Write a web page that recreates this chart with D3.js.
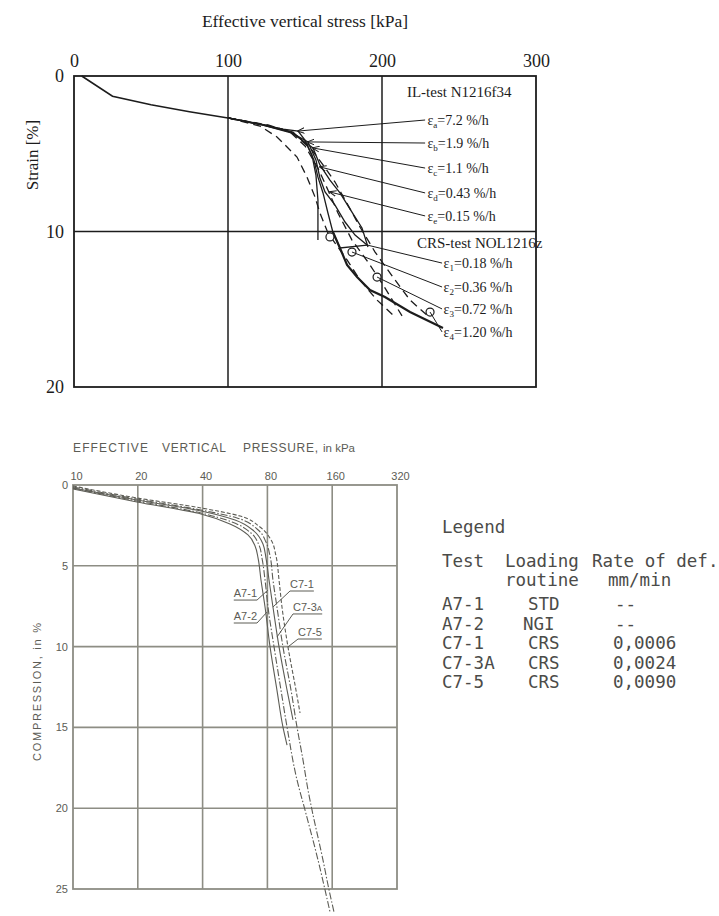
<!DOCTYPE html>
<html>
<head>
<meta charset="utf-8">
<script src="https://cdn.jsdelivr.net/npm/d3@7"></script>
<style>
body { margin: 0; background: #fff; }
</style>
</head>
<body>
<svg id="fig" width="719" height="916"></svg>
<script>
// ---------- top chart: effective vertical stress [kPa] vs strain [%]
var topTicksX = [0, 100, 200, 300], topTicksY = [0, 10, 20]
var topGridX = [100, 200], topGridY = [10]

var baseCurve = [[5, 0], [25, 1.3], [50, 1.85], [75, 2.3], [100, 2.7]]

// IL-test curves (solid)
var ilA = [[100, 2.7], [120.8, 3.09], [135.7, 3.41], [145.5, 3.54], [150, 4.12], [154.5, 5.08], [157.1, 6.37], [158.4, 7.97], [158.4, 10.55]]
var ilB = [[100, 2.7], [122.1, 3.15], [140.3, 3.6], [151.9, 4.24], [157.1, 5.4], [159.7, 6.56], [163, 7.46], [169.5, 8.3], [176, 9.39], [182.5, 10.23], [190.3, 10.87]]
var ilC = [[100, 2.7], [122.1, 3.15], [141.6, 3.67], [155.2, 4.63], [159.7, 5.72], [166.2, 6.69], [172.7, 7.52], [180.5, 8.75], [187, 9.77], [190.9, 11.0]]
var ilD = [[100, 2.7], [124, 3.15], [142.2, 3.6], [151.3, 4.44], [155.8, 5.4], [158.4, 6.5], [161.7, 7.52], [164.9, 8.81], [168, 10.0], [172.7, 11.06], [190.3, 10.87]]

// CRS-test curves
var crs1 = [[100, 2.7], [120.8, 3.22], [131.8, 3.92], [144.8, 5.21], [151.3, 6.5], [156.5, 7.78], [159.7, 8.81], [164.9, 10.1], [177.3, 11.83], [185.7, 13.12], [196.8, 14.41], [207.1, 15.37]]
var crs2 = [[100, 2.7], [124, 3.15], [139.6, 3.54], [150, 4.5], [158.4, 5.92], [164.9, 7.33], [171.4, 8.81], [180.5, 10.55], [192.2, 12.15], [201.9, 13.63], [213, 15.43]]
var crs3 = [[100, 2.7], [126, 3.15], [142.2, 3.67], [154.5, 4.76], [161.7, 5.72], [169.5, 6.82], [177.9, 8.3], [185.7, 9.71], [195.5, 11.32], [207.1, 12.93], [218.2, 14.41], [231.2, 15.56]]
var crs4 = [[168, 10.0], [172.7, 11.06], [177.3, 12.15], [183.8, 12.93], [192.2, 13.76], [201.9, 14.21], [218.2, 15.18], [239.6, 16.21]]

var ilNames = ["a", "b", "c", "d", "e"]
var ilRates = ["7.2", "1.9", "1.1", "0.43", "0.15"]
var ilLabelStrain = [2.83, 4.31, 5.92, 7.52, 9.0]
var ilTips = [[145.5, 3.54], [151.9, 4.24], [155.2, 4.63], [159.7, 5.85], [166.2, 7.46]]

var crsNames = ["1", "2", "3", "4"]
var crsRates = ["0.18", "0.36", "0.72", "1.20"]
var crsLabelStrain = [12.03, 13.57, 14.98, 16.46]
var crsTips = [[190.3, 10.87], [180.5, 11.32], [196.8, 12.93], [231.2, 15.18]]
var crsMarks = [[166.2, 10.35], [180.5, 11.32], [196.8, 12.93], [231.2, 15.18]]

// ---------- bottom chart: effective vertical pressure (log) vs compression
var botTicksX = [10, 20, 40, 80, 160, 320], botTicksY = [0, 5, 10, 15, 20, 25]
var botGridX = [20, 40, 80, 160], botGridY = [5, 10, 15, 20]

var a71 = [[10, 0.25], [19.8, 1.05], [39.3, 1.79], [53.6, 2.41], [65, 3.09], [70.1, 3.77], [72.4, 4.52], [74.7, 5.88], [78, 7.55], [82.3, 10.02], [88.6, 12.69], [94.5, 14.98], [98.7, 16.09]]
var a72 = [[10, 0.19], [19.8, 0.99], [39.3, 1.73], [54.8, 2.29], [67.1, 2.97], [73.1, 3.71], [75.5, 4.52], [78, 5.88], [80.5, 7.55], [85.9, 10.02], [92.5, 12.69], [98.7, 14.98], [109.8, 18.25], [119.6, 20.11], [137.5, 23.21], [148.2, 25.06], [156.3, 26.42]]
var c71 = [[10, 0.19], [19.8, 0.93], [39.3, 1.61], [56.6, 2.17], [69.3, 2.85], [76.3, 3.65], [78.8, 4.52], [81.4, 5.88], [84.9, 7.55], [90.6, 10.02], [98.7, 12.69], [105.2, 14.54]]
var c73a = [[10, 0.12], [19.8, 0.87], [39.3, 1.55], [57.8, 2.04], [71.6, 2.72], [78.8, 3.53], [82.3, 4.39], [84.9, 5.88], [88.6, 7.55], [94.5, 10.02], [103, 12.69], [109.8, 14.98], [117.1, 17.02], [123.5, 18.87], [128.9, 20.11], [145, 23.21], [154.7, 25.06], [163.1, 26.42]]
var c75 = [[10, 0.06], [19.8, 0.8], [39.3, 1.42], [59.7, 1.92], [73.9, 2.6], [83.2, 3.4], [87.7, 4.39], [90.6, 5.88], [93.5, 7.55], [99.7, 10.02], [108.6, 12.69], [113.4, 14.11]]

// label anchor (end of underline) and leader target on the curve
var botLabels = ["A7-1", "A7-2", "C7-1", "C7-3", "C7-5"]
var botLabelAt = [[71.6, 7.12], [71.6, 8.54], [101.9, 6.56], [105.2, 7.98], [111.0, 9.53]]
var botLabelTip = [[80.5, 6.5], [79.7, 7.86], [84.9, 7.55], [88.6, 9.41], [99.7, 10.02]]
var botLabelSide = ["left", "left", "right", "right", "right"]

var legendHead = ["Test", "Loading", "Rate of def."]
var legendHead2 = ["", "routine", "mm/min"]
var legendTests = ["A7-1", "A7-2", "C7-1", "C7-3A", "C7-5"]
var legendRoutine = ["STD", "NGI", "CRS", "CRS", "CRS"]
var legendRate = ["--", "--", "0,0006", "0,0024", "0,0090"]

var svg = d3.select("#fig")
var ink = "#1c1c1c"

// ================= TOP CHART =================
var xTop = d3.scaleLinear().domain([0, 300]).range([74, 536])
var yTop = d3.scaleLinear().domain([0, 20]).range([76, 387])
var lineTop = d3.line().x(d => xTop(d[0])).y(d => yTop(d[1]))

var topG = svg.append("g").attr("id", "top").style("font-family", "'Liberation Serif', serif").attr("fill", ink)

topG.append("text").attr("x", 305).attr("y", 27).attr("text-anchor", "middle")
  .style("font-size", "17.5px").text("Effective vertical stress [kPa]")

topG.append("text").attr("transform", "translate(38," + 155 + ")rotate(-90)").attr("text-anchor", "middle")
  .style("font-size", "17px").text("Strain [%]")

var ax = topG.append("g").attr("transform", "translate(0," + yTop(0) + ")")
  .call(d3.axisTop(xTop).tickValues(topTicksX).tickSize(0).tickPadding(9))
ax.select(".domain").remove()
ax.selectAll("text").style("font-size", "18px").style("font-family", "'Liberation Serif', serif").attr("fill", ink)

var ay = topG.append("g").attr("transform", "translate(" + xTop(0) + ",0)")
  .call(d3.axisLeft(yTop).tickValues(topTicksY).tickSize(0).tickPadding(10))
ay.select(".domain").remove()
ay.selectAll("text").style("font-size", "18px").style("font-family", "'Liberation Serif', serif").attr("fill", ink)

topG.selectAll(".gx").data(topGridX).enter().append("line")
  .attr("x1", d => xTop(d)).attr("x2", d => xTop(d)).attr("y1", yTop(0)).attr("y2", yTop(20))
  .attr("stroke", ink).attr("stroke-width", 1.5)
topG.selectAll(".gy").data(topGridY).enter().append("line")
  .attr("x1", xTop(0)).attr("x2", xTop(300)).attr("y1", d => yTop(d)).attr("y2", d => yTop(d))
  .attr("stroke", ink).attr("stroke-width", 1.5)
topG.append("rect").attr("x", xTop(0)).attr("y", yTop(0))
  .attr("width", xTop(300) - xTop(0)).attr("height", yTop(20) - yTop(0))
  .attr("fill", "none").attr("stroke", ink).attr("stroke-width", 1.8)

// curves
topG.append("path").attr("d", lineTop(baseCurve)).attr("fill", "none").attr("stroke", ink).attr("stroke-width", 1.6)
;[ilA, ilB, ilC, ilD].forEach(c => {
  topG.append("path").attr("d", lineTop(c)).attr("fill", "none").attr("stroke", ink).attr("stroke-width", 1.3)
})
;[crs1, crs2, crs3].forEach(c => {
  topG.append("path").attr("d", lineTop(c)).attr("fill", "none").attr("stroke", ink)
    .attr("stroke-width", 1.3).attr("stroke-dasharray", "8,5")
})
topG.append("path").attr("d", lineTop(crs4)).attr("fill", "none").attr("stroke", ink).attr("stroke-width", 2.2)

// markers
svg.append("defs").append("marker").attr("id", "arr").attr("viewBox", "0 0 10 10")
  .attr("refX", 9).attr("refY", 5).attr("markerWidth", 7).attr("markerHeight", 7).attr("orient", "auto")
  .append("path").attr("d", "M0,1L10,5L0,9").attr("fill", "none").attr("stroke", ink).attr("stroke-width", 1.4)

topG.selectAll(".crsm").data(crsMarks).enter().append("circle")
  .attr("cx", d => xTop(d[0])).attr("cy", d => yTop(d[1])).attr("r", 4)
  .attr("fill", "#fff").attr("stroke", ink).attr("stroke-width", 1.2)

// IL labels
topG.append("text").attr("x", xTop(216.2)).attr("y", yTop(1.35)).style("font-size", "15px").text("IL-test N1216f34")
ilNames.forEach((n, i) => {
  topG.append("line").attr("x1", xTop(228)).attr("y1", yTop(ilLabelStrain[i]))
    .attr("x2", xTop(ilTips[i][0])).attr("y2", yTop(ilTips[i][1]))
    .attr("stroke", ink).attr("stroke-width", 1).attr("marker-end", "url(#arr)")
  var t = topG.append("text").attr("x", xTop(229.5)).attr("y", yTop(ilLabelStrain[i])).attr("dy", "0.35em").style("font-size", "14px")
  t.append("tspan").text("\u03b5")
  t.append("tspan").attr("dy", 3).style("font-size", "9px").text(n)
  t.append("tspan").attr("dy", -3).text("=" + ilRates[i] + " %/h")
})

// CRS labels
topG.append("text").attr("x", xTop(222.7)).attr("y", yTop(11.06)).style("font-size", "15px").text("CRS-test NOL1216z")
crsNames.forEach((n, i) => {
  topG.append("line").attr("x1", xTop(239)).attr("y1", yTop(crsLabelStrain[i]))
    .attr("x2", xTop(crsTips[i][0])).attr("y2", yTop(crsTips[i][1]))
    .attr("stroke", ink).attr("stroke-width", 1)
  var t = topG.append("text").attr("x", xTop(240)).attr("y", yTop(crsLabelStrain[i])).attr("dy", "0.35em").style("font-size", "14px")
  t.append("tspan").text("\u03b5")
  t.append("tspan").attr("dy", 3).style("font-size", "9px").text(n)
  t.append("tspan").attr("dy", -3).text("=" + crsRates[i] + " %/h")
})

// ================= BOTTOM CHART =================
var gray = "#5c5c55", gridc = "#8d8d84"
var xBot = d3.scaleLog().domain([10, 320]).range([73, 397])
var yBot = d3.scaleLinear().domain([0, 25]).range([485, 889])
var lineBot = d3.line().x(d => xBot(d[0])).y(d => yBot(d[1])).curve(d3.curveMonotoneY)

var bot = svg.append("g").attr("id", "bottom").style("font-family", "'Liberation Sans', Arial, sans-serif").attr("fill", gray)

// title in pieces, wide spaced like the print
var titleParts = [["EFFECTIVE", 73, 75, 12], ["VERTICAL", 162, 64, 12], ["PRESSURE,", 243, 75, 12]]
titleParts.forEach(p => {
  bot.append("text").attr("x", p[1]).attr("y", 452).attr("textLength", p[2]).attr("lengthAdjust", "spacing")
    .style("font-size", p[3] + "px").text(p[0])
})
bot.append("text").attr("x", 323).attr("y", 452).style("font-size", "11.5px").text("in kPa")
bot.append("text").attr("transform", "translate(41,692)rotate(-90)").attr("text-anchor", "middle")
  .attr("textLength", 138).attr("lengthAdjust", "spacing")
  .style("font-size", "11px").text("COMPRESSION, in %")

var bx = bot.append("g").attr("transform", "translate(0," + yBot(0) + ")")
  .call(d3.axisTop(xBot).tickValues(botTicksX).tickFormat(d3.format("d")).tickSize(0).tickPadding(5))
bx.select(".domain").remove()
bx.selectAll("text").attr("dx", 3).style("font-size", "11px").style("font-family", "'Liberation Sans', Arial, sans-serif").attr("fill", gray)

var by = bot.append("g").attr("transform", "translate(" + xBot(10) + ",0)")
  .call(d3.axisLeft(yBot).tickValues(botTicksY).tickSize(0).tickPadding(5))
by.select(".domain").remove()
by.selectAll("text").style("font-size", "11px").style("font-family", "'Liberation Sans', Arial, sans-serif").attr("fill", gray)

bot.selectAll(".gx").data(botGridX).enter().append("line")
  .attr("x1", d => xBot(d)).attr("x2", d => xBot(d)).attr("y1", yBot(0)).attr("y2", yBot(25))
  .attr("stroke", gridc).attr("stroke-width", 1.6)
bot.selectAll(".gy").data(botGridY).enter().append("line")
  .attr("x1", xBot(10)).attr("x2", xBot(320)).attr("y1", d => yBot(d)).attr("y2", d => yBot(d))
  .attr("stroke", gridc).attr("stroke-width", 1.6)
bot.append("rect").attr("x", xBot(10)).attr("y", yBot(0))
  .attr("width", xBot(320) - xBot(10)).attr("height", yBot(25) - yBot(0))
  .attr("fill", "none").attr("stroke", gridc).attr("stroke-width", 1.8)

var botSeries = [a71, a72, c71, c73a, c75]
var botDash = [null, "7,2,1.5,2", null, "7,2,1.5,2", "4,2"]
botSeries.forEach((s, i) => {
  bot.append("path").attr("d", lineBot(s)).attr("fill", "none").attr("stroke", gray)
    .attr("stroke-width", 1.1).attr("stroke-dasharray", botDash[i])
})

botLabels.forEach((n, i) => {
  var ax_ = xBot(botLabelAt[i][0]), ay_ = yBot(botLabelAt[i][1])
  var t = bot.append("text").attr("y", ay_ - 3).style("font-size", "11px")
  t.append("tspan").text(n)
  if (n == "C7-3") t.append("tspan").style("font-size", "8px").text("A")
  var w = t.node().getComputedTextLength()
  var x0 = botLabelSide[i] == "left" ? ax_ - w : ax_
  t.attr("x", x0)
  bot.append("line").attr("x1", x0).attr("x2", x0 + w).attr("y1", ay_).attr("y2", ay_)
    .attr("stroke", gray).attr("stroke-width", 1)
  bot.append("line").attr("x1", ax_).attr("y1", ay_)
    .attr("x2", xBot(botLabelTip[i][0])).attr("y2", yBot(botLabelTip[i][1]))
    .attr("stroke", gray).attr("stroke-width", 1)
})

// ================= LEGEND =================
var lg = svg.append("g").attr("id", "legend").style("font-family", "'DejaVu Sans Mono', monospace")
  .style("font-size", "17.5px").attr("fill", "#4b4b48")
var colX = [442, 505, 592]
lg.append("text").attr("x", colX[0]).attr("y", 533).text("Legend")
legendHead.forEach((h, i) => lg.append("text").attr("x", colX[i]).attr("y", 567).text(h))
lg.append("text").attr("x", colX[1]).attr("y", 586).text(legendHead2[1])
lg.append("text").attr("x", 608).attr("y", 586).text(legendHead2[2])
legendTests.forEach((t, i) => {
  var yy = 610 + i * 19.5
  lg.append("text").attr("x", colX[0]).attr("y", yy).text(t)
  lg.append("text").attr("x", legendRoutine[i] == "NGI" ? 523 : 528).attr("y", yy).text(legendRoutine[i])
  lg.append("text").attr("x", legendRate[i] == "--" ? 615 : 613).attr("y", yy).text(legendRate[i])
})
</script>
</body>
</html>
